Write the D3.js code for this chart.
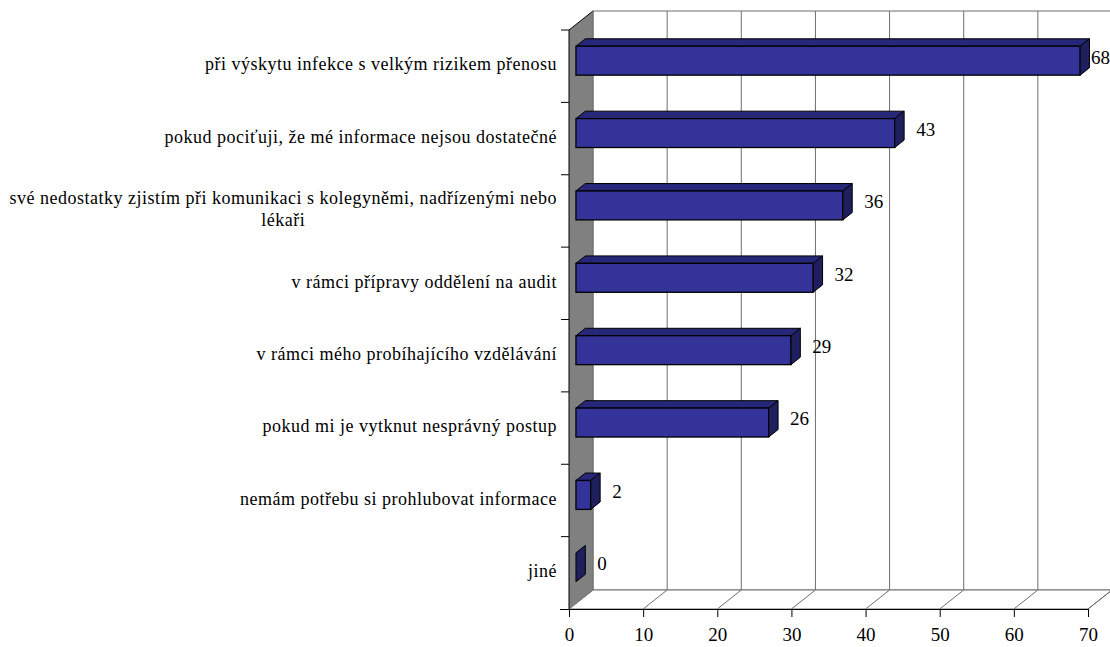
<!DOCTYPE html>
<html>
<head>
<meta charset="utf-8">
<script src="https://cdn.jsdelivr.net/npm/d3@7"></script>
<style>
  html, body { margin: 0; padding: 0; background: #ffffff; }
  svg { display: block; }
</style>
</head>
<body>
<svg id="chart" width="1110" height="647"></svg>
<script>
// Answers (number of respondents) for each reason
const categories = [
  "při výskytu infekce s velkým rizikem přenosu",
  "pokud pociťuji, že mé informace nejsou dostatečné",
  "své nedostatky zjistím při komunikaci s kolegyněmi, nadřízenými nebo lékaři",
  "v rámci přípravy oddělení na audit",
  "v rámci mého probíhajícího vzdělávání",
  "pokud mi je vytknut nesprávný postup",
  "nemám potřebu si prohlubovat informace",
  "jiné"
];
const values = [68, 43, 36, 32, 29, 26, 2, 0];
const xTicks = [0, 10, 20, 30, 40, 50, 60, 70];

const W = 1110, H = 647;
const FONT = "'Liberation Serif'";
const svg = d3.select("#chart");

// Front plane of the 3D plot box and the depth offset of its back wall
const plotLeft = 569, plotRight = 1088, plotTop = 30, plotBottom = 609;
const depthX = 24, depthY = -19;
// Bars sit between these fractions of the depth
const zFront = 0.29, zBack = 0.68;

const x = d3.scaleLinear().domain([0, 70]).range([plotLeft, plotRight]);
const y = d3.scaleBand().domain(categories).range([plotTop, plotBottom])
  .paddingInner(0.6).paddingOuter(0.3);

const gridColor = "#6e6e6e";

// Back wall
svg.append("rect")
  .attr("x", plotLeft + depthX).attr("y", plotTop + depthY)
  .attr("width", plotRight - plotLeft).attr("height", plotBottom - plotTop)
  .attr("fill", "#fff").attr("stroke", gridColor).attr("stroke-width", 1);

// Vertical gridlines on the back wall
svg.append("g").selectAll("line").data(xTicks.slice(1)).join("line")
  .attr("x1", d => x(d) + depthX).attr("x2", d => x(d) + depthX)
  .attr("y1", plotTop + depthY).attr("y2", plotBottom + depthY)
  .attr("stroke", gridColor).attr("stroke-width", 1);

// Floor
svg.append("path")
  .attr("d", `M${plotLeft},${plotBottom}L${plotLeft + depthX},${plotBottom + depthY}L${plotRight + depthX},${plotBottom + depthY}L${plotRight},${plotBottom}Z`)
  .attr("fill", "#fff").attr("stroke", gridColor).attr("stroke-width", 1);
svg.append("g").selectAll("line").data(xTicks).join("line")
  .attr("x1", d => x(d)).attr("y1", plotBottom)
  .attr("x2", d => x(d) + depthX).attr("y2", plotBottom + depthY)
  .attr("stroke", gridColor).attr("stroke-width", 1);

// Side wall (gray)
svg.append("path")
  .attr("d", `M${plotLeft},${plotTop}L${plotLeft + depthX},${plotTop + depthY}L${plotLeft + depthX},${plotBottom + depthY}L${plotLeft},${plotBottom}Z`)
  .attr("fill", "#808080").attr("stroke", "none");
svg.append("line")
  .attr("x1", plotLeft).attr("y1", plotTop).attr("x2", plotLeft + depthX).attr("y2", plotTop + depthY)
  .attr("stroke", "#000").attr("stroke-width", 1);
svg.append("line")
  .attr("x1", plotLeft + depthX).attr("y1", plotTop + depthY).attr("x2", plotLeft + depthX).attr("y2", plotBottom + depthY)
  .attr("stroke", gridColor).attr("stroke-width", 1);

// Bars (top face, front face, end face)
const ox1 = depthX * zFront, oy1 = depthY * zFront;
const ox2 = depthX * zBack, oy2 = depthY * zBack;
const bw = y.bandwidth();
const bars = svg.append("g").selectAll("g").data(categories).join("g");
bars.each(function (c, i) {
  const g = d3.select(this);
  const v = values[i];
  const x0 = x(0), xv = x(v), yt = y(c);
  if (v > 0) {
    g.append("path")
      .attr("d", `M${x0 + ox1},${yt + oy1}L${x0 + ox2},${yt + oy2}L${xv + ox2},${yt + oy2}L${xv + ox1},${yt + oy1}Z`)
      .attr("fill", "#27277a").attr("stroke", "#000").attr("stroke-width", 1).attr("stroke-linejoin", "round");
    g.append("rect")
      .attr("x", x0 + ox1).attr("y", yt + oy1)
      .attr("width", xv - x0).attr("height", bw)
      .attr("fill", "#333399").attr("stroke", "#000").attr("stroke-width", 1.3);
  }
  g.append("path")
    .attr("d", `M${xv + ox1},${yt + oy1}L${xv + ox2},${yt + oy2}L${xv + ox2},${yt + oy2 + bw}L${xv + ox1},${yt + oy1 + bw}Z`)
    .attr("fill", "#1f1f5e").attr("stroke", "#000").attr("stroke-width", 1).attr("stroke-linejoin", "round");
});

// Axes
const xAxis = d3.axisBottom(x).tickValues(xTicks).tickSize(8).tickPadding(11).tickFormat(d3.format("d"));
const gx = svg.append("g").attr("transform", `translate(0,${plotBottom})`).call(xAxis)
  .attr("font-family", null).attr("font-size", null);
gx.select(".domain").attr("d", `M${plotLeft - 9},0.5H${plotRight}`).attr("stroke", "#000");
gx.selectAll(".tick line").attr("stroke", "#000");
gx.selectAll(".tick text")
  .style("font-family", FONT).style("font-size", "19px").attr("fill", "#000");

// Left axis line and category ticks
svg.append("line").attr("x1", plotLeft).attr("x2", plotLeft).attr("y1", plotTop).attr("y2", plotBottom)
  .attr("stroke", "#000").attr("stroke-width", 1);
const step = y.step();
svg.append("g").selectAll("line").data(d3.range(categories.length)).join("line")
  .attr("x1", plotLeft - 8).attr("x2", plotLeft)
  .attr("y1", i => plotTop + i * step).attr("y2", i => plotTop + i * step)
  .attr("stroke", "#000").attr("stroke-width", 1);

// Category labels, wrapped to the available width and right aligned
const labelRight = 557, labelMax = 552, lineH = 22;
const catG = svg.append("g");
function styleCat(sel) {
  return sel.style("font-family", FONT).style("font-size", "18px")
    .style("letter-spacing", "0.5px").attr("fill", "#000");
}
categories.forEach((c, i) => {
  const words = c.split(" ");
  const lines = [];
  let cur = "";
  const probe = styleCat(catG.append("text")).attr("opacity", 0);
  words.forEach(w => {
    const test = cur ? cur + " " + w : w;
    probe.text(test);
    if (probe.node().getComputedTextLength() > labelMax && cur) {
      lines.push(cur); cur = w;
    } else cur = test;
  });
  lines.push(cur);
  const widths = lines.map(l => { probe.text(l); return probe.node().getComputedTextLength(); });
  probe.remove();
  const blockW = d3.max(widths);
  const cy = plotTop + (i + 0.5) * step - 2;
  const t = styleCat(catG.append("text")).attr("text-anchor", "middle");
  lines.forEach((l, k) => {
    t.append("tspan")
      .attr("x", labelRight - blockW / 2)
      .attr("y", cy + (k - (lines.length - 1) / 2) * lineH)
      .attr("dy", "0.35em")
      .text(l);
  });
});

// Value labels beside the bar ends
const zMid = (zFront + zBack) / 2;
svg.append("g").selectAll("text").data(values).join("text")
  .style("font-family", FONT).style("font-size", "19px").attr("fill", "#000")
  .attr("dy", "0.35em")
  .attr("y", (d, i) => y(categories[i]) + bw / 2 + depthY * zMid)
  .text(d => d)
  .attr("x", function (d) {
    const w = this.getComputedTextLength();
    return Math.min(x(d) + ox2 + 12, W - w);
  });
</script>
</body>
</html>
